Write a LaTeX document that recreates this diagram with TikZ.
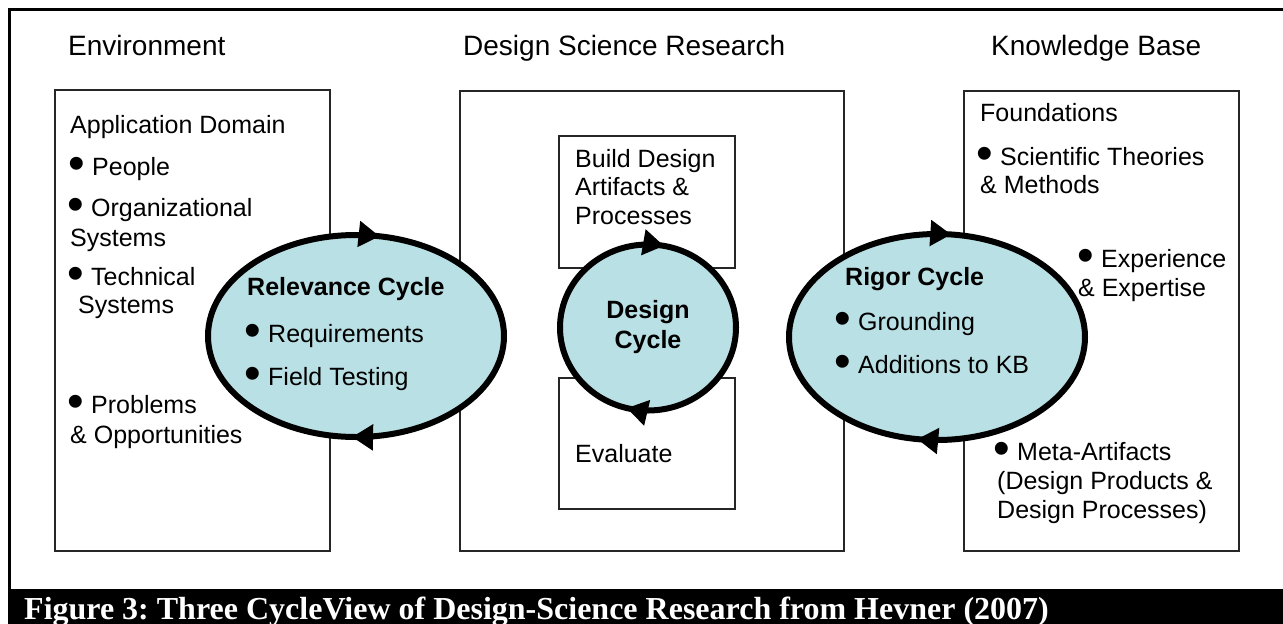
\documentclass[tikz,border=0pt]{standalone}
\usepackage{fontspec}
\setmainfont{Liberation Sans}
\newfontfamily\capfont{Liberation Serif}
\usetikzlibrary{arrows.meta,decorations.markings}
\definecolor{cycfill}{RGB}{185,224,228}
\newcommand{\bul}{\llap{\smash{\raisebox{-4pt}{\scalebox{1.9}{\textbullet}}}\hspace{7pt}}}
\tikzset{
  txt/.style={anchor=base west, inner sep=0pt, font=\fontsize{25}{30}\selectfont},
  ttl/.style={anchor=base west, inner sep=0pt, font=\fontsize{28}{33}\selectfont},
  btxt/.style={anchor=base west, inner sep=0pt, font=\fontsize{25}{30}\selectfont\bfseries},
  boxst/.style={draw=black!85, line width=2pt},
  cyc/.style={draw=black, line width=6pt, fill=cycfill},
  cyctip/.tip={Triangle[length=21pt 0 1, width=25pt 0 1]},
  cycarrows/.style n args={2}{postaction={decorate, decoration={markings,
      mark=at position #1 with {\arrow{cyctip}},
      mark=at position #2 with {\arrow{cyctip}}}}},
}
\begin{document}
\frenchspacing
\begin{tikzpicture}[x=1pt,y=-1pt]
\useasboundingbox (0,0) rectangle (1283,624);
% outer frame and caption bar
\draw[line width=3pt] (9,624) -- (9,9) -- (1290,9);
\fill[black] (8,589) rectangle (1283,624);
\node[anchor=base west, inner sep=0pt, text=white, font=\capfont\bfseries\fontsize{32}{36}\selectfont] (cap) at (24,619)
  {Figure 3: Three CycleView of Design-Science Research from Hevner (2007)};
% titles
\node[ttl] (tenv) at (68,55) {Environment};
\node[ttl] (tdsr) at (463,55) {Design Science Research};
\node[ttl] (tkb) at (991,55) {Knowledge Base};
% boxes
\draw[boxst] (55,90) rectangle (330,551);
\draw[boxst] (460,91) rectangle (844,551);
\draw[boxst] (559,136) rectangle (735,268);
\draw[boxst] (559,378) rectangle (735,509);
\draw[boxst] (964,91) rectangle (1239,551);
% cycles
\draw[cyc, cycarrows={0.255}{0.78}] (356,336) ellipse [x radius=148, y radius=101];
\draw[cyc, cycarrows={0.29}{0.78}] (648,327.5) ellipse [x radius=88, y radius=83];
\draw[cyc, cycarrows={0.275}{0.768}] (937,337) ellipse [x radius=148, y radius=103];
% left box text
\node[txt] (appdom) at (70,133) {Application Domain};
\node[txt] (people) at (92,175) {\bul People};
\node[txt] (org) at (91,216) {\bul Organizational};
\node[txt] (orgsys) at (70,246) {Systems};
\node[txt] (tech) at (91,285) {\bul Technical};
\node[txt] (techsys) at (78,313) {Systems};
\node[txt] (prob) at (91,413) {\bul Problems};
\node[txt] (opp) at (70,443) {\& Opportunities};
% relevance cycle text
\node[btxt] (relt) at (247,295) {Relevance Cycle};
\node[txt] (req) at (268,342) {\bul Requirements};
\node[txt] (field) at (268,385) {\bul Field Testing};
% middle text
\node[txt] (build1) at (575,167) {Build Design};
\node[txt] (build2) at (575,195) {Artifacts \&};
\node[txt] (build3) at (575,224) {Processes};
\node[btxt, anchor=base] (dc1) at (648,318) {Design};
\node[btxt, anchor=base] (dc2) at (648,348) {Cycle};
\node[txt] (eval) at (575,462) {Evaluate};
% right box text
\node[txt] (found) at (980,121) {Foundations};
\node[txt] (sci) at (1000,165) {\bul Scientific Theories};
\node[txt] (meth) at (980,193) {\& Methods};
\node[txt] (exp) at (1101,267) {\bul Experience};
\node[txt] (expt) at (1078,296) {\& Expertise};
\node[btxt] (rigt) at (845,285) {Rigor Cycle};
\node[txt] (ground) at (858,330) {\bul Grounding};
\node[txt] (add) at (858,373) {\bul Additions to KB};
\node[txt] (meta) at (1017,460) {\bul Meta-Artifacts};
\node[txt] (dp1) at (997,489) {(Design Products \&};
\node[txt] (dp2) at (997,518) {Design Processes)};
\end{tikzpicture}
\end{document}
